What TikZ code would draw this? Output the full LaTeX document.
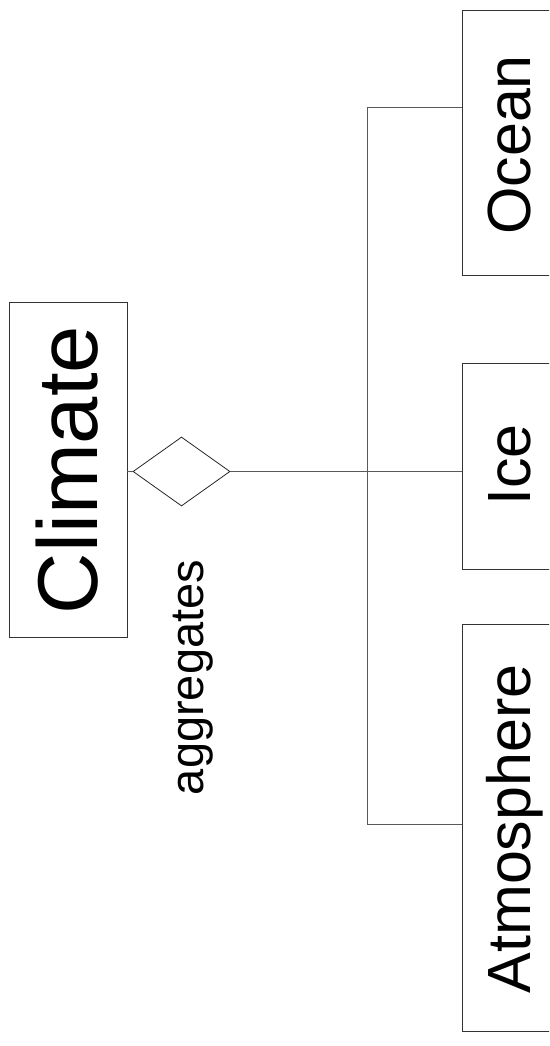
\documentclass[tikz,border=0pt]{standalone}
\usepackage{fontspec}
\setmainfont{Liberation Sans}
\usetikzlibrary{shapes.geometric}
\begin{document}
\begin{tikzpicture}[x=1pt,y=-1pt,
  box/.style={draw=black!80, line width=0.8pt, rectangle, inner sep=0pt},
  conn/.style={draw=black!65, line width=0.8pt},
  bigtxt/.style={rotate=90, anchor=base, inner sep=0pt, font=\fontsize{85}{85}\selectfont},
  midtxt/.style={rotate=90, anchor=base, inner sep=0pt, font=\fontsize{61}{61}\selectfont},
  smalltxt/.style={rotate=90, anchor=base, inner sep=0pt, font=\fontsize{47}{47}\selectfont}]
\useasboundingbox (0,0) rectangle (549,1046);
\clip (0,0) rectangle (549,1046);
% boxes
\node[box, minimum width=118pt, minimum height=335pt] (climate) at (68,469.5) {};
\node[box, minimum width=178pt, minimum height=265pt] (ocean) at (551,142.5) {};
\node[box, minimum width=178pt, minimum height=206pt] (ice) at (551,466) {};
\node[box, minimum width=178pt, minimum height=407pt] (atmos) at (551,827.5) {};
\node[draw=black!85, line width=0.8pt, diamond, inner sep=0pt, minimum width=97pt, minimum height=69pt] (dia) at (181.5,471.5) {};
% texts
\node[bigtxt] (tclimate) at (97,470) {Climate};
\node[midtxt] (tocean) at (530,145) {Ocean};
\node[midtxt] (tice) at (530,465) {Ice};
\node[midtxt] (tatmos) at (530,829) {Atmosphere};
\node[smalltxt] (tagg) at (203,677.5) {aggregates};
% connectors
\coordinate (jtop) at (367,107);
\coordinate (jbot) at (367,824);
\draw[conn] (dia.west -| climate.east) -- (dia.west);
\draw[conn] (dia.east) -- (dia.east -| ice.west);
\draw[conn] (ocean.west |- jtop) -- (jtop) -- (jbot) -- (atmos.west |- jbot);
\end{tikzpicture}
\end{document}
